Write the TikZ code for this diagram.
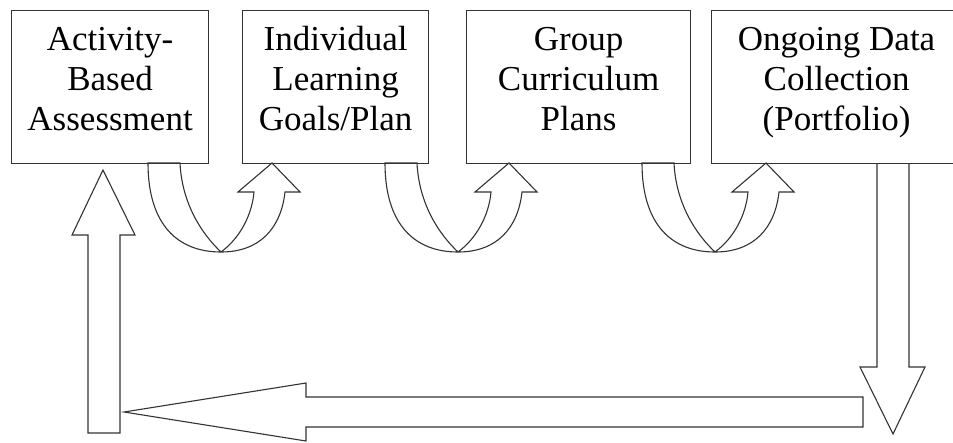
\documentclass[tikz,border=0pt]{standalone}
\usepackage{fontspec}
\setmainfont{Liberation Serif}

\tikzset{
  stage/.style={draw=black!80, line width=1.2pt, anchor=north west, inner sep=0pt,
    align=center, font=\fontsize{35}{40}\selectfont, text height=120pt, text depth=33pt},
  blockarrow/.style={draw=black!80, line width=1.1pt, line join=miter}
}

% U-turn arrow from the bottom of one stage up into the next
\newcommand{\turnarrow}[1]{%
  \draw[blockarrow] (#1,163) .. controls (#1,225) and ({#1+30},252) .. ({#1+73},252)
    .. controls ({#1+112},252) and ({#1+133},228) .. ({#1+137},192)
    -- ({#1+152},192) -- ({#1+124},163) -- ({#1+90},192) -- ({#1+106},192)
    .. controls ({#1+104},215) and ({#1+92},238) .. ({#1+73},252)
    .. controls ({#1+55},235) and ({#1+34},205) .. ({#1+32},163) -- cycle;}

\begin{document}
\begin{tikzpicture}[x=1pt, y=-1pt]
  \useasboundingbox (0,0) rectangle (953,442);
  \clip (0,0) rectangle (953,442);
  % stages
  \node[stage, minimum width=197pt] (assess) at (11,10) {Activity-\\Based\\Assessment};
  \node[stage, minimum width=186pt] (goals) at (242,10) {Individual\\Learning\\Goals/Plan};
  \node[stage, minimum width=224pt] (group) at (466,10) {Group\\Curriculum\\Plans};
  \node[stage, minimum width=250pt] (data) at (711,10) {Ongoing Data\\Collection\\(Portfolio)};
  % turns between stages
  \turnarrow{148}
  \turnarrow{385}
  \turnarrow{642}
  % loop back
  \draw[blockarrow] (877,163) -- (877,367) -- (860,367) -- (893,434) -- (925,367) -- (909,367) -- (909,163);
  \draw[blockarrow] (863,397) -- (306,397) -- (306,383) -- (124,412) -- (306,441) -- (306,427) -- (863,427) -- cycle;
  \draw[blockarrow] (88,433) -- (88,235) -- (72,235) -- (103,170) -- (135,235) -- (120,235) -- (120,433) -- cycle;
\end{tikzpicture}
\end{document}
